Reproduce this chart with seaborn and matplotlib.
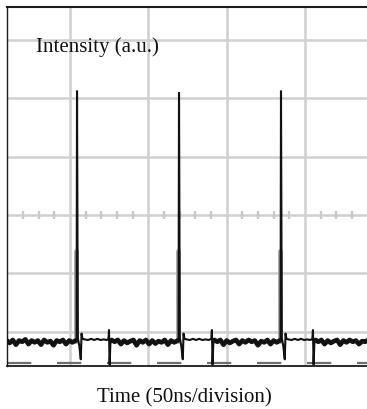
import numpy as np
import pandas as pd
import matplotlib
matplotlib.use("Agg")
import matplotlib.pyplot as plt
import seaborn as sns

# ---- data (time in ns, signal in vertical divisions) ----
trace_t = [9.8, 11.5, 13.5, 15.5, 17.5, 19.5, 21.5, 23.5, 25.5, 27.5, 29.5, 31.5, 33.5, 35.5,
           37.5, 39.5, 41.5, 43.5, 45.5, 47.5, 49.5, 51.5, 53.6,
           54.2, 54.5, 55.0, 56.0, 56.9, 57.4, 58.0,
           59.5, 61.5, 63.5, 65.5, 67.5, 69.5, 71.5, 73.5,
           74.6, 74.9, 75.3, 75.8, 76.6,
           78.5, 80.5, 82.5, 84.5, 86.5, 88.5, 90.5, 92.5, 94.5, 96.5, 98.5, 100.5, 102.5,
           104.5, 106.5, 108.5, 110.5, 112.5, 114.5, 116.5, 118.7,
           119.3, 119.6, 120.1, 121.1, 122.0, 122.5, 123.1,
           124.5, 126.5, 128.5, 130.5, 132.5, 134.5, 136.5, 138.5,
           140.2, 140.6, 141.0, 141.5, 142.3,
           144.0, 146.0, 148.0, 150.0, 152.0, 154.0, 156.0, 158.0, 160.0, 162.0, 164.0,
           166.0, 168.0, 170.0, 172.0, 174.0, 176.0, 178.0, 180.0, 182.0, 183.8,
           184.4, 184.7, 185.2, 186.2, 187.1, 187.6, 188.2,
           189.5, 191.5, 193.5, 195.5, 197.5, 199.5, 201.5, 203.5,
           204.7, 205.1, 205.5, 206.0, 206.8,
           208.5, 210.5, 212.5, 214.5, 216.5, 218.5, 220.5, 222.5, 224.5, 226.5, 228.5,
           230.5, 232.5, 234.5, 236.5, 238.5, 239.6]
trace_v = [-2.15, -2.19, -2.14, -2.22, -2.15, -2.17, -2.13, -2.21, -2.15, -2.18, -2.15, -2.22, -2.14, -2.18,
           -2.16, -2.23, -2.15, -2.17, -2.14, -2.21, -2.15, -2.18, -2.15,
           -2.16, 2.12, -2.10, -2.25, -2.47, -2.03, -2.12,
           -2.13, -2.14, -2.12, -2.14, -2.12, -2.14, -2.13, -2.14,
           -2.12, -1.97, -2.56, -2.20, -2.14,
           -2.17, -2.14, -2.21, -2.15, -2.19, -2.16, -2.14, -2.23, -2.15, -2.18, -2.14, -2.21, -2.15,
           -2.20, -2.16, -2.18, -2.14, -2.22, -2.15, -2.18, -2.15,
           -2.16, 2.09, -2.10, -2.25, -2.47, -2.03, -2.12,
           -2.13, -2.14, -2.12, -2.14, -2.12, -2.14, -2.13, -2.14,
           -2.12, -1.97, -2.56, -2.20, -2.14,
           -2.17, -2.14, -2.22, -2.15, -2.19, -2.16, -2.14, -2.21, -2.15, -2.18, -2.14,
           -2.17, -2.15, -2.23, -2.16, -2.18, -2.14, -2.21, -2.15, -2.18, -2.15,
           -2.16, 2.12, -2.10, -2.25, -2.47, -2.03, -2.12,
           -2.13, -2.14, -2.12, -2.14, -2.12, -2.14, -2.13, -2.14,
           -2.12, -1.97, -2.56, -2.20, -2.14,
           -2.17, -2.14, -2.21, -2.15, -2.19, -2.16, -2.14, -2.22, -2.15, -2.18, -2.14,
           -2.17, -2.15, -2.21, -2.16, -2.17, -2.15]

# stretches where the noisy baseline shows as a thick band (start, end in ns)
band_segments = [(9.8, 53.6), (76.6, 118.7), (142.3, 183.8), (206.8, 239.6)]

# grey second trace visible at the foot of each pulse
ghost_t = [54.1, 119.2, 184.3]
ghost_base = -2.16
ghost_top = -0.62

# reference (dashed) level near the bottom
ref_level = -2.54

# graticule
grid_x = [50, 100, 150, 200]
grid_y = [-2, -1, 0, 1, 2, 3]
minor_tick_t = [10, 20, 30, 40, 60, 70, 80, 90, 110, 120, 130, 140, 160, 170, 180, 190,
                210, 220, 230]

ylabel_text = "Intensity (a.u.)"
xlabel_text = "Time (50ns/division)"

# ---- plot ----
sns.set_style("white")
plt.rcParams["lines.scale_dashes"] = False

fig = plt.figure(figsize=(3.67, 4.09), dpi=100)
ax = fig.add_axes([7 / 367, 43 / 409, 360 / 367, 359 / 409])

ax.set_xticks(grid_x)
ax.set_yticks(grid_y)
ax.grid(True, color="#d0d0d0", lw=1.8)
ax.set_axisbelow(True)
ax.tick_params(length=0, labelbottom=False, labelleft=False)

# minor ticks along centre line
sns.scatterplot(x=minor_tick_t, y=[0] * len(minor_tick_t), marker="|", s=36,
                color="#c8c8c8", linewidth=1.7, ax=ax, zorder=1)

# dashed reference line
ax.axhline(ref_level, color="#6e6e6e", lw=1.6, zorder=2,
           linestyle=(0, (17.5, 18.5)))

# grey ghost pulses
for gt in ghost_t:
    sns.lineplot(x=[gt, gt], y=[ghost_base, ghost_top], color="#a0a0a0", lw=3.4,
                 ax=ax, zorder=3, estimator=None)

df = pd.DataFrame({"t": trace_t, "v": trace_v})

# thick noisy baseline band
for t0, t1 in band_segments:
    seg = df[(df["t"] >= t0) & (df["t"] <= t1)]
    sns.lineplot(data=seg, x="t", y="v", sort=False, estimator=None, color="#151515",
                 lw=3.4, ax=ax, zorder=4)

# main trace
sns.lineplot(data=df, x="t", y="v", sort=False, estimator=None, color="#111111",
             lw=1.5, ax=ax, zorder=5)

ax.set_xlim(9.8, 239.6)
ax.set_ylim(-2.585, 3.56)
ax.set_xlabel("")
ax.set_ylabel("")

for side in ["top", "bottom", "left"]:
    ax.spines[side].set_visible(True)
    ax.spines[side].set_color("#1a1a1a")
ax.spines["top"].set_linewidth(1.5)
ax.spines["bottom"].set_linewidth(1.3)
ax.spines["left"].set_linewidth(1.0)
ax.spines["right"].set_visible(False)

ax.text(0.0806, 0.889, ylabel_text, transform=ax.transAxes, ha="left", va="center",
        fontsize=15, family="Liberation Serif", color="#111111", zorder=6)
fig.text(184.5 / 367, 1 - 398 / 409, xlabel_text, ha="center", va="center",
         fontsize=15, family="Liberation Serif", color="#111111")

fig.savefig("out.png", dpi=100, facecolor="white")
